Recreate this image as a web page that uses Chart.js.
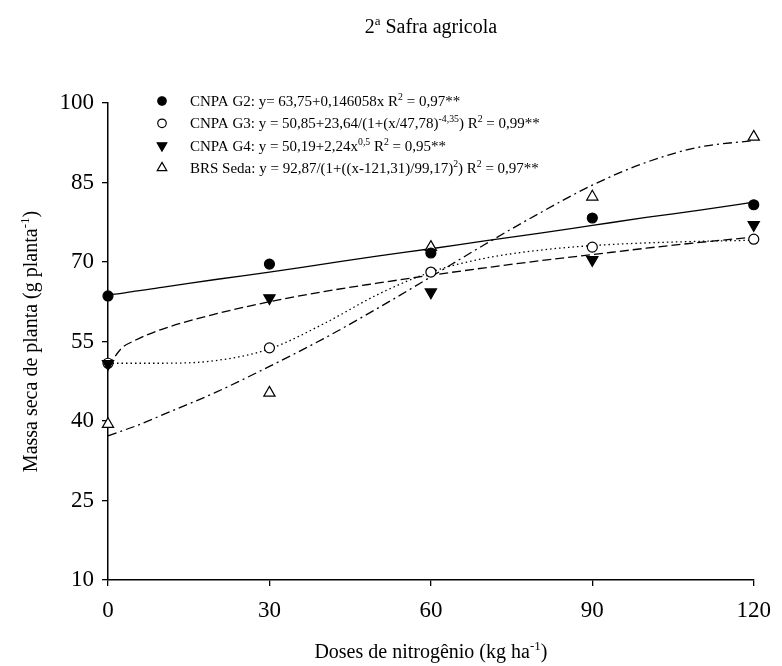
<!DOCTYPE html>
<html>
<head>
<meta charset="utf-8">
<script src="https://cdn.jsdelivr.net/npm/chart.js@4.4.0/dist/chart.umd.min.js"></script>
<style>
body { margin: 0; background: #fff; }
</style>
</head>
<body>
<canvas id="canvas_chart" width="782" height="666"></canvas>
<script>
// observed means
const doses = [0, 30, 60, 90, 120];
const g2_obs = [63.6, 69.6, 71.7, 78.3, 80.8];
const g3_obs = [50.9, 53.8, 68.1, 72.8, 74.3];
const g4_obs = [50.8, 63.2, 64.3, 70.4, 77.0];
const brs_obs = [39.4, 45.3, 72.8, 82.3, 93.6];

// fitted curves
const curve_x = [0, 2.5, 5, 10, 20, 30, 40, 50, 60, 70, 80, 90, 100, 110, 120];
const g2_fit = [63.8, 64.1, 64.5, 65.2, 66.7, 68.1, 69.6, 71.1, 72.5, 74.0, 75.4, 76.9, 78.4, 79.8, 81.3];
const g3_fit = [50.9, 50.9, 50.9, 50.9, 51.4, 53.6, 58.3, 63.8, 68.1, 70.7, 72.2, 73.1, 73.6, 73.9, 74.1];
const g4_fit = [50.2, 53.7, 55.2, 57.3, 60.2, 62.5, 64.4, 66.0, 67.5, 68.9, 70.2, 71.4, 72.6, 73.7, 74.7];
const brs_fit = [37.2, 38.1, 39.0, 41.1, 45.4, 50.3, 55.5, 61.2, 67.2, 73.3, 79.1, 84.5, 88.8, 91.7, 92.9];

const legend_labels = [
    'CNPA G2: y= 63,75+0,146058x R^{2} = 0,97**',
    'CNPA G3: y = 50,85+23,64/(1+(x/47,78)^{-4,35}) R^{2} = 0,99**',
    'CNPA G4: y = 50,19+2,24x^{0,5} R^{2} = 0,95**',
    'BRS Seda: y = 92,87/(1+((x-121,31)/99,17)^{2}) R^{2} = 0,97**'
];
const chart_title = '2^{a} Safra agricola';
const x_title = 'Doses de nitrogênio (kg ha^{-1})';
const y_title = 'Massa seca de planta (g planta^{-1})';

const serif = "'Liberation Serif', 'Times New Roman', serif";

function pts(xs, ys) {
    return xs.map((x, i) => ({ x: x, y: ys[i] }));
}

// text with ^{...} superscripts
function richWidth(ctx, text, size) {
    let w = 0;
    text.split(/(\^\{[^}]*\})/).forEach(p => {
        if (!p) return;
        const sup = p.startsWith('^{');
        const s = sup ? p.slice(2, -1) : p;
        ctx.font = (sup ? size * 0.65 : size) + 'px ' + serif;
        w += ctx.measureText(s).width;
    });
    return w;
}
function drawRich(ctx, text, x, y, size) {
    ctx.textAlign = 'left';
    ctx.textBaseline = 'alphabetic';
    text.split(/(\^\{[^}]*\})/).forEach(p => {
        if (!p) return;
        const sup = p.startsWith('^{');
        const s = sup ? p.slice(2, -1) : p;
        ctx.font = (sup ? size * 0.65 : size) + 'px ' + serif;
        ctx.fillText(s, x, sup ? y - size * 0.4 : y);
        x += ctx.measureText(s).width;
    });
}

const point_styles = [
    { pointStyle: 'circle', radius: 5, rotation: 0, fill: '#000' },
    { pointStyle: 'circle', radius: 5, rotation: 0, fill: '#fff' },
    { pointStyle: 'triangle', radius: 6.5, rotation: 180, fill: '#000' },
    { pointStyle: 'triangle', radius: 6.5, rotation: 0, fill: '#fff' }
];

// higher order is drawn first (underneath)
function obsSet(ys, k, order) {
    const st = point_styles[k];
    return {
        data: pts(doses, ys),
        showLine: false,
        clip: false,
        pointStyle: st.pointStyle,
        pointRadius: st.radius,
        pointRotation: st.rotation,
        pointBackgroundColor: st.fill,
        pointBorderColor: '#000',
        pointBorderWidth: 1.2,
        order: order
    };
}
function fitSet(ys, dash) {
    return {
        data: pts(curve_x, ys),
        showLine: true,
        clip: false,
        pointRadius: 0,
        borderColor: '#000',
        borderWidth: 1.3,
        borderDash: dash,
        cubicInterpolationMode: 'monotone',
        fill: false,
        order: 5
    };
}

const textPlugin = {
    id: 'textPlugin',
    afterDraw(chart) {
        const ctx = chart.ctx;
        const a = chart.chartArea;
        ctx.save();
        ctx.fillStyle = '#000';
        // title
        const cx = (a.left + a.right) / 2;
        drawRich(ctx, chart_title, cx - richWidth(ctx, chart_title, 20) / 2, 33, 20);
        // x axis title
        drawRich(ctx, x_title, cx - richWidth(ctx, x_title, 20) / 2, 658, 20);
        // y axis title
        ctx.save();
        ctx.translate(37, (a.top + a.bottom) / 2);
        ctx.rotate(-Math.PI / 2);
        drawRich(ctx, y_title, -richWidth(ctx, y_title, 20) / 2, 0, 20);
        ctx.restore();
        // legend
        legend_labels.forEach((t, i) => {
            const y = 101 + i * 22.3;
            const st = point_styles[i];
            ctx.fillStyle = st.fill;
            ctx.strokeStyle = '#000';
            ctx.lineWidth = 1.2;
            Chart.helpers.drawPoint(ctx, {
                pointStyle: st.pointStyle,
                radius: st.radius * 0.85,
                rotation: st.rotation,
                borderWidth: 1.2
            }, 162, y);
            ctx.fillStyle = '#000';
            drawRich(ctx, t, 190, y + 5, 15);
        });
        ctx.restore();
    }
};

const config_chart = {
    type: 'scatter',
    data: {
        datasets: [
            obsSet(g2_obs, 0, 0),
            obsSet(g3_obs, 1, 2),
            obsSet(g4_obs, 2, 1),
            obsSet(brs_obs, 3, 3),
            fitSet(g2_fit, []),
            fitSet(g3_fit, [1.5, 3]),
            fitSet(g4_fit, [9, 4]),
            fitSet(brs_fit, [9, 4, 2, 4])
        ]
    },
    options: {
        responsive: false,
        animation: false,
        devicePixelRatio: 1,
        layout: { padding: { left: 0, right: 16, top: 103, bottom: 0 } },
        plugins: {
            legend: { display: false },
            title: { display: false },
            tooltip: { enabled: false }
        },
        scales: {
            x: {
                type: 'linear',
                min: 0,
                max: 120,
                afterFit(scale) { scale.height = 86; },
                ticks: { stepSize: 30, padding: 11, color: '#000', font: { family: serif, size: 23 } },
                grid: { drawOnChartArea: false, drawTicks: true, tickLength: 6, color: '#000', lineWidth: 1.3 },
                border: { color: '#000', width: 1.5 }
            },
            y: {
                min: 10,
                max: 100,
                afterFit(scale) { scale.width = 108; },
                ticks: { stepSize: 15, padding: 8, color: '#000', font: { family: serif, size: 23 } },
                grid: { drawOnChartArea: false, drawTicks: true, tickLength: 6, color: '#000', lineWidth: 1.3 },
                border: { color: '#000', width: 1.5 }
            }
        }
    },
    plugins: [textPlugin]
};

const canvas_chart = document.getElementById('canvas_chart');
const chart_main = new Chart(canvas_chart, config_chart);
</script>
</body>
</html>
